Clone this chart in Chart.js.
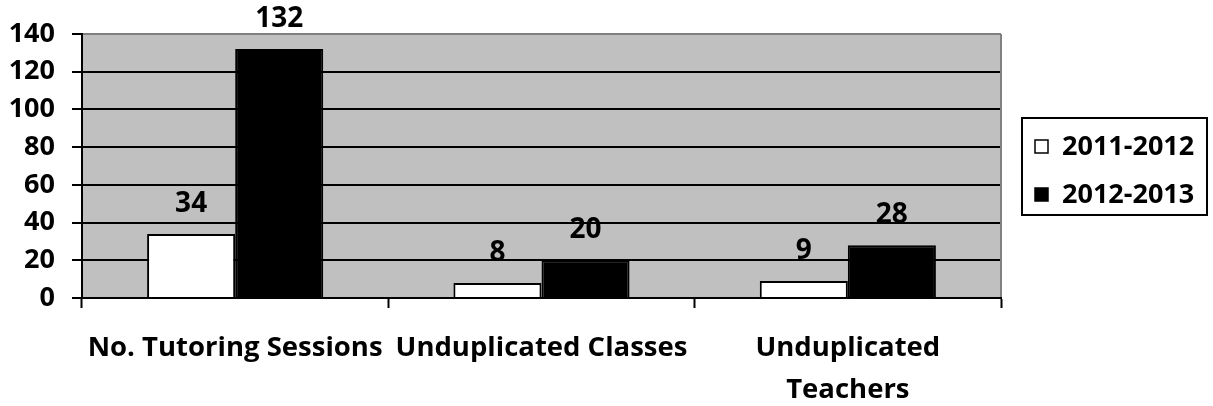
<!DOCTYPE html>
<html>
<head>
<meta charset="utf-8">
<style>
  html, body { margin: 0; padding: 0; background: #ffffff; }
  #wrap { position: relative; width: 1213px; height: 406px; }
</style>
<script src="https://cdn.jsdelivr.net/npm/chart.js@4/dist/chart.umd.min.js"></script>
</head>
<body>
<div id="wrap"><canvas id="c" width="1213" height="406"></canvas></div>
<script>
// Categories and series
const categories = ['No. Tutoring Sessions', 'Unduplicated Classes', ['Unduplicated', 'Teachers']];
const seriesNames = ['2011-2012', '2012-2013'];
const values2011 = [34, 8, 9];
const values2012 = [132, 20, 28];
const yTicks = [0, 20, 40, 60, 80, 100, 120, 140];

const FONT = '"Open Sans", "DejaVu Sans", sans-serif';

// Grey plot-area fill, drawn before anything else
const plotBackground = {
  id: 'plotBackground',
  beforeDraw(chart) {
    const { ctx, chartArea: a } = chart;
    ctx.save();
    ctx.fillStyle = '#c0c0c0';
    ctx.fillRect(a.left, a.top, a.right - a.left, a.bottom - a.top);
    ctx.restore();
  },
  afterDraw(chart) {
    const { ctx, chartArea: a } = chart;
    ctx.save();
    ctx.strokeStyle = '#808080';
    ctx.lineWidth = 2;
    ctx.beginPath();
    ctx.moveTo(a.right, a.top);
    ctx.lineTo(a.right, a.bottom - 1);
    ctx.stroke();
    ctx.restore();
  }
};

// Value labels above each bar
const valueLabels = {
  id: 'valueLabels',
  afterDatasetsDraw(chart) {
    const { ctx } = chart;
    ctx.save();
    ctx.font = 'bold 28px ' + FONT;
    ctx.fillStyle = '#000';
    ctx.textAlign = 'center';
    ctx.textBaseline = 'middle';
    chart.data.datasets.forEach((ds, i) => {
      chart.getDatasetMeta(i).data.forEach((bar, j) => {
        ctx.fillText(String(ds.data[j]), bar.x, bar.y - 30);
      });
    });
    ctx.restore();
  }
};

// Boxed legend on the right
const boxedLegend = {
  id: 'boxedLegend',
  afterDraw(chart) {
    const { ctx } = chart;
    const x0 = 1022, y0 = 118, w = 185, h = 97;
    ctx.save();
    ctx.fillStyle = '#fff';
    ctx.fillRect(x0, y0, w, h);
    ctx.strokeStyle = '#000';
    ctx.lineWidth = 2;
    ctx.strokeRect(x0, y0, w, h);
    ctx.font = 'bold 27px ' + FONT;
    ctx.textAlign = 'left';
    ctx.textBaseline = 'middle';
    chart.data.datasets.forEach((ds, i) => {
      const cy = 147 + i * 48;
      ctx.fillStyle = ds.backgroundColor;
      ctx.fillRect(1035, cy - 7, 13, 13);
      ctx.strokeStyle = '#000';
      ctx.lineWidth = 1.5;
      ctx.strokeRect(1035, cy - 7, 13, 13);
      ctx.fillStyle = '#000';
      ctx.fillText(ds.label, 1062, cy);
    });
    ctx.restore();
  }
};

new Chart(document.getElementById('c'), {
  type: 'bar',
  data: {
    labels: categories,
    datasets: [
      { label: seriesNames[0], data: values2011, backgroundColor: '#ffffff', borderColor: '#000000', borderWidth: 2 },
      { label: seriesNames[1], data: values2012, backgroundColor: '#000000', borderColor: '#000000', borderWidth: 2 }
    ]
  },
  options: {
    responsive: false,
    animation: false,
    layout: { padding: { top: 34, right: 212, bottom: 0, left: 0 } },
    plugins: { legend: { display: false }, tooltip: { enabled: false } },
    datasets: { bar: { categoryPercentage: 0.575, barPercentage: 1.0 } },
    scales: {
      x: {
        grid: { offset: true, drawOnChartArea: false, drawTicks: true, tickLength: 10, tickColor: '#000', tickWidth: 2 },
        border: { color: '#000', width: 2 },
        ticks: { color: '#000', font: { family: FONT, size: 27.5, weight: 'bold', lineHeight: 1.54 }, padding: 19, maxRotation: 0, autoSkip: false },
        afterFit(scale) { scale.height = 108; }
      },
      y: {
        min: 0, max: 140,
        afterBuildTicks(scale) { scale.ticks = yTicks.map(v => ({ value: v })); },
        grid: {
          color: ctx => (ctx.tick && ctx.tick.value === 140 ? '#808080' : '#000'),
          lineWidth: 2, tickLength: 10, tickColor: '#000', tickWidth: 2
        },
        border: { color: '#000', width: 2 },
        ticks: { color: '#000', font: { family: FONT, size: 27, weight: 'bold' }, padding: 17 },
        afterFit(scale) { scale.width = 82; }
      }
    }
  },
  plugins: [plotBackground, valueLabels, boxedLegend]
});
</script>
</body>
</html>
